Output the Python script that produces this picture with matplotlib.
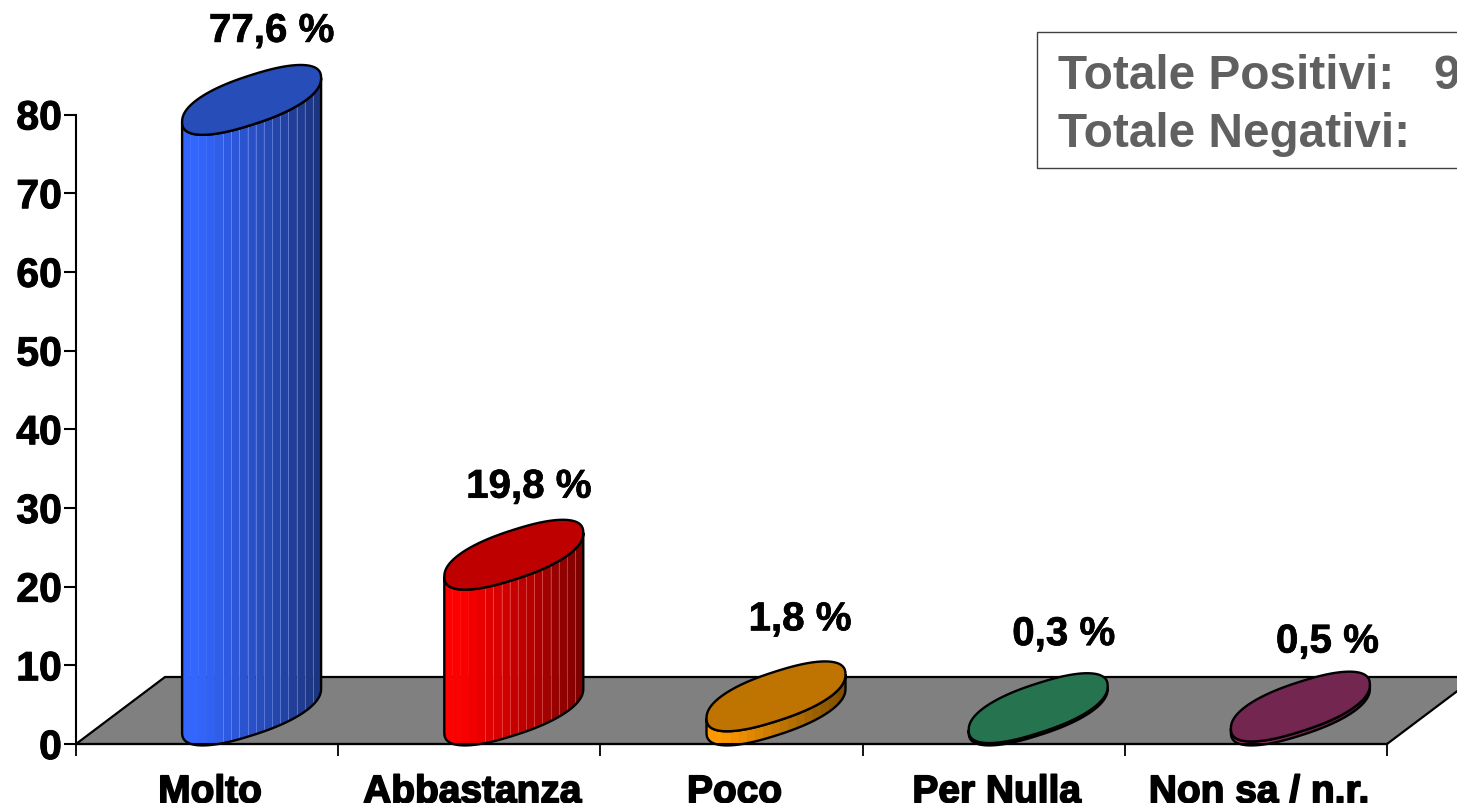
import numpy as np
import matplotlib
matplotlib.use("Agg")
import matplotlib.pyplot as plt
import matplotlib.patheffects as pe
from matplotlib.patches import Polygon, Rectangle
from matplotlib.colors import to_rgb

categories = ["Molto", "Abbastanza", "Poco", "Per Nulla", "Non sa / n.r."]
values = [77.6, 19.8, 1.8, 0.3, 0.5]
value_labels = ["77,6 %", "19,8 %", "1,8 %", "0,3 %", "0,5 %"]
yticks = [0, 10, 20, 30, 40, 50, 60, 70, 80]
box_lines = ["Totale Positivi:   97,4 %", "Totale Negativi:"]

side_light = ["#3366FF", "#FF0000", "#FF9900", "#339966", "#993366"]
side_dark = ["#1C3580", "#800000", "#805000", "#1A4D33", "#4D1A33"]
top_colors = ["#264DB8", "#BF0000", "#BF7300", "#267350", "#732650"]
label_gap_px = [69, 68, 77, 74, 65]
label_shift_px = [20, 15, 24, 25.5, 27]

W, H = 1457, 804
fig = plt.figure(figsize=(W / 100, H / 100), dpi=100, facecolor="white")
plt.rcParams["font.family"] = ["Liberation Sans", "DejaVu Sans"]
L, R, T, B = 76, 1387, 115.5, 745
ax = fig.add_axes([L / W, 1 - B / H, (R - L) / W, (B - T) / H])
ax.set_xlim(-0.5, 4.5)
ax.set_ylim(0, 80)
ax.patch.set_alpha(0)
PX = 5 / (R - L)      # data x per pixel
PY = 80 / (B - T)     # data y per pixel
DEPTH_X, DEPTH_Y = 89, 67
A, BB, S = 69.5, 25, 22   # ellipse half width, half height, shear (pixels)
EXP = 0.86               # slightly squarer than a true ellipse


def ring(cx, cy, t):
    c = np.sign(np.cos(t)) * np.abs(np.cos(t)) ** EXP
    s = np.sign(np.sin(t)) * np.abs(np.sin(t)) ** EXP
    return cx + A * PX * c, cy + (BB * s + S * c) * PY


# floor
x0, x1 = ax.get_xlim()
floor = Polygon([(x0, 0), (x0 + DEPTH_X * PX, DEPTH_Y * PY),
                 (x1 + DEPTH_X * PX, DEPTH_Y * PY), (x1, 0)],
                closed=True, facecolor="#808080", edgecolor="black", lw=1.6,
                zorder=1, clip_on=True, transform=ax.transData)
ax.add_patch(floor)
floor.set_clip_box(fig.bbox)

for i, v in enumerate(values):
    cx = i + DEPTH_X / 2 * PX
    cy0 = DEPTH_Y / 2 * PY
    cy1 = cy0 + v
    c0, c1 = np.array(to_rgb(side_light[i])), np.array(to_rgb(side_dark[i]))
    n = 17
    edges = np.linspace(np.pi, 2 * np.pi, 400)
    xs, ys = ring(cx, 0, edges)
    xgrid = np.linspace(xs[0], xs[-1], n + 1)
    low = np.interp(xgrid, xs, ys)
    for k in range(n):
        f = max(0.0, (k - 1.5) / (n - 2.5))
        col = c0 + (c1 - c0) * f
        xa = np.linspace(xgrid[k], xgrid[k + 1], 6)
        ya = np.interp(xa, xs, ys)
        poly = np.r_[np.c_[xa, ya + cy0], np.c_[xa[::-1], ya[::-1] + cy1]]
        ax.add_patch(Polygon(poly, closed=True, facecolor=col, edgecolor=col,
                             lw=0.3, zorder=3, clip_on=False))
        if k >= 5 and v > 5:
            ax.plot([xgrid[k], xgrid[k]], [low[k] + cy0, low[k] + cy1],
                    color=(c0 + 1) / 2, alpha=0.45, lw=0.7, zorder=3.2,
                    clip_on=False)
    # outline of the side
    tt = np.linspace(np.pi, 2 * np.pi, 60)
    bx, by = ring(cx, cy0, tt)
    tx, ty = ring(cx, cy1, tt[::-1])
    ax.add_patch(Polygon(np.r_[np.c_[bx, by], np.c_[tx, ty]], closed=True,
                         facecolor="none", edgecolor="black", lw=1.7,
                         zorder=3.5, clip_on=False))
    # top face
    t = np.linspace(0, 2 * np.pi, 81)
    ex, ey = ring(cx, cy1, t)
    ax.add_patch(Polygon(np.c_[ex, ey], closed=True, facecolor=top_colors[i],
                         edgecolor="black", lw=1.7, zorder=4, clip_on=False))
    lab = ax.annotate(value_labels[i], (cx, cy1),
                      xytext=(label_shift_px[i] * 0.72, label_gap_px[i] * 0.72),
                      textcoords="offset points", ha="center", va="center",
                      fontsize=29, fontweight="bold", color="black", zorder=6,
                      annotation_clip=False)
    lab.set_path_effects([pe.withStroke(linewidth=0.5, foreground="black")])

for s in ("top", "right"):
    ax.spines[s].set_visible(False)
for s in ("left", "bottom"):
    ax.spines[s].set_linewidth(1.5)
    ax.spines[s].set_zorder(5)

ax.set_yticks(yticks)
ax.set_xticks(np.arange(-0.5, 5, 1))
ax.set_xticklabels([])
ax.tick_params(axis="y", length=8.5, width=1.5, pad=1.7, labelsize=29.5)
ax.tick_params(axis="x", length=8.5, width=1.3)
for lab in ax.get_yticklabels():
    lab.set_fontweight("bold")
    lab.set_path_effects([pe.withStroke(linewidth=0.7, foreground="black")])
for i, c in enumerate(categories):
    t = ax.annotate(c, (i, 0), xytext=(3 * 0.72, -58.5 * 0.72), textcoords="offset points",
                    ha="center", va="baseline", fontsize=28, fontweight="bold",
                    color="black", annotation_clip=False)
    t.set_path_effects([pe.withStroke(linewidth=1.2, foreground="black")])

# summary box
fig.add_artist(Rectangle((1037 / W, 1 - 168.5 / H), 500 / W, 135.5 / H,
                         transform=fig.transFigure, facecolor="white",
                         edgecolor="#404040", lw=1.0, zorder=2))
for line, base in zip(box_lines, (89, 147)):
    fig.text(1058 / W, 1 - base / H, line, fontsize=34.4, fontweight="bold",
             color="#606060", ha="left", va="baseline", zorder=3)

fig.savefig("out.png", dpi=100)
